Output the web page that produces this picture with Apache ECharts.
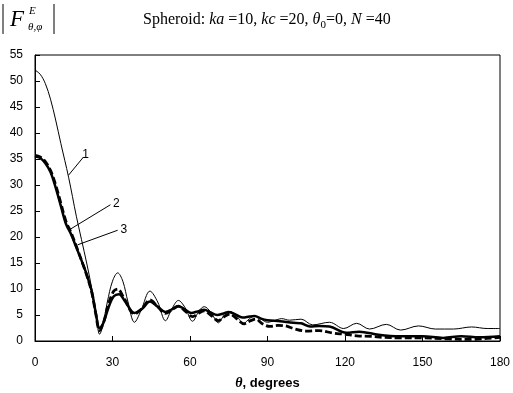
<!DOCTYPE html>
<html><head><meta charset="utf-8">
<script src="https://cdn.jsdelivr.net/npm/echarts@6/dist/echarts.min.js"></script>
<style>html,body{margin:0;padding:0;background:#fff}#c{width:513px;height:393px}</style>
</head><body><div id="c"></div>
<script>
// Curve 1 (thin solid)
var theta1 = [0,2,4,6,8,10,13,16,18,20,22,24,25,26,28,30,32,34,36,38.5,41,44.5,47.5,50.5,53,55.5,58,61,63.5,65.5,68,71,73,75.5,78,80.8,83,85,87.5,90,92.5,95.5,98.5,103,107.5,114,119.5,124.5,129.5,136,141.5,148.5,155,162,169,175,180];
var val1   = [52.1,51.3,49.5,46.5,42.5,38,31.5,24,19.5,15,10,3.5,1.3,2.5,7.5,11.5,13.1,11.5,7.5,3.6,5.8,9.6,7.5,3.9,6.2,7.8,6.5,3.8,5.8,6.6,5.6,3.5,4.8,5.7,4.8,3.4,4.3,4.8,4.2,3.6,3.9,4.3,4.0,4.2,3.1,3.6,2.4,3.4,2.3,3.2,2.1,2.9,2.3,2.3,2.7,2.4,2.4];
// Curve 2 (thick solid)
var theta2 = [0,2,4,6,8,10,12,14,16,18,20,22,23.5,25,26.5,28.5,30.5,32.5,35,38.5,41.5,44.5,47.5,50.5,53,55.5,58,60.5,63,65.5,68,70.5,73,75,78,80.5,83,85,87.5,90,94.8,100,103,106.5,110,114,120.5,125.5,133,141,150,158,165,172,180];
var val2   = [35.5,35.2,34.2,32.5,29.5,26,22.5,20.5,18,15.5,12.8,9.5,5.5,2.4,3.5,6.5,8.6,9.0,7.5,5.4,6.2,7.6,6.6,5.6,6.1,6.7,6.1,5.4,5.7,6.0,5.5,5.0,5.3,5.6,5.0,4.5,4.7,4.8,4.3,4.0,3.8,3.5,3.4,2.8,2.9,2.8,1.6,1.8,1.2,0.9,0.9,0.6,0.9,0.7,0.9];
// Curve 3 (thick dashed)
var theta3 = [0,2,4,6,8,10,12,14,16,18,20,22,23.5,25,26.5,28.5,30.5,32,34.5,38.5,41.5,44.5,47.5,50.5,53,55.5,58,61,63.5,65.5,68,71,73,75.5,78,81,83,85.5,88,91,94,97,100,105,110,115.5,120,124.5,130,135,142,150,160,170,175,180];
var val3   = [35.7,35.4,34.5,32.8,30,26.5,23,20.8,18.2,15.5,12.7,9.3,5.3,2.0,3.5,7.2,9.6,10.0,8.2,5.2,6.3,7.9,6.6,5.3,6.0,6.7,5.8,4.7,5.4,5.8,5.0,3.9,4.6,5.2,4.3,3.3,3.8,4.2,3.3,2.8,3.0,2.9,2.4,1.9,2.0,1.5,1.3,1.0,0.9,0.7,0.6,0.6,0.4,0.3,0.5,0.7];
var xTicks = [0,30,60,90,120,150,180];
var yTicks = [0,5,10,15,20,25,30,35,40,45,50,55];
// Curve labels with leader lines (data coordinates)
var curveLabels = ['1','2','3'];
var leaderStart = [[13.0,31.9],[13.0,21.3],[16.5,18.5]];
var leaderEnd   = [[18.8,35.4],[29.2,26.2],[32.0,21.3]];

function pairs(t,v){return t.map(function(x,i){return [x,v[i]];});}

var chart = echarts.init(document.getElementById('c'),null,{renderer:'canvas'});
var leaders = curveLabels.map(function(l,i){
  return [{coord:leaderStart[i]},{coord:leaderEnd[i],label:{show:true,formatter:l,position:'end',distance:3,color:'#000',fontFamily:'Liberation Sans, Arial',fontSize:12}}];
});
var option = {
  animation:false,
  grid:{left:35,right:13,top:55,bottom:52,show:true,borderColor:'#000',borderWidth:1,containLabel:false,outerBoundsMode:'none'},
  xAxis:{type:'value',min:0,max:180,interval:30,
    axisLine:{lineStyle:{color:'#000',width:1}},
    axisTick:{inside:true,length:5,lineStyle:{color:'#000'}},
    splitLine:{show:false},
    axisLabel:{color:'#000',fontFamily:'Liberation Sans, Arial',fontSize:12,margin:16},
    name:'{t|θ}{d|, degrees}',nameLocation:'middle',nameGap:35,
    nameTextStyle:{rich:{t:{fontFamily:'Liberation Serif',fontStyle:'italic',fontWeight:'bold',fontSize:14,color:'#000'},
      d:{fontFamily:'Liberation Sans, Arial',fontWeight:'bold',fontSize:13,color:'#000'}}}
  },
  yAxis:{type:'value',min:0,max:55,interval:5,
    axisLine:{show:true,lineStyle:{color:'#000',width:1}},
    axisTick:{show:true,inside:true,length:5,lineStyle:{color:'#000'}},
    splitLine:{show:false},
    axisLabel:{color:'#000',fontFamily:'Liberation Sans, Arial',fontSize:12,margin:12}
  },
  series:[
    {type:'line',data:pairs(theta1,val1),smooth:0.35,symbol:'none',lineStyle:{color:'#000',width:1},z:3,
     markLine:{silent:true,symbol:'none',lineStyle:{color:'#000',width:1,type:'solid'},data:leaders}},
    {type:'line',data:pairs(theta2,val2),smooth:0.35,symbol:'none',lineStyle:{color:'#000',width:2.5},z:2},
    {type:'line',data:pairs(theta3,val3),smooth:0.35,symbol:'none',lineStyle:{color:'#000',width:2.8,type:[7,3]},z:2}
  ],
  graphic:[
    {type:'line',shape:{x1:3,y1:4,x2:3,y2:34},style:{stroke:'#000',lineWidth:1}},
    {type:'line',shape:{x1:54,y1:4,x2:54,y2:34},style:{stroke:'#000',lineWidth:1}},
    {type:'text',left:10,top:8,style:{text:'F',font:'italic 23px "Liberation Serif"',fill:'#000'}},
    {type:'text',left:29,top:6,style:{text:'E',font:'italic 11px "Liberation Serif"',fill:'#000'}},
    {type:'text',left:28,top:22,style:{text:'θ,φ',font:'italic 11px "Liberation Serif"',fill:'#000'}},
    {type:'text',left:143,top:12,style:{
      text:'{n|Spheroid: }{i|ka}{n| =10, }{i|kc}{n| =20, }{i|θ}{s|0}{n|=0, }{i|N}{n| =40}',
      rich:{n:{fontFamily:'Liberation Serif',fontSize:16,color:'#000',lineHeight:20,verticalAlign:'bottom'},
            i:{fontFamily:'Liberation Serif',fontStyle:'italic',fontSize:16,color:'#000',lineHeight:20,verticalAlign:'bottom'},
            s:{fontFamily:'Liberation Serif',fontSize:11,color:'#000',lineHeight:20,verticalAlign:'bottom',padding:[0,0,-3,0]}}}}
  ]
};
chart.setOption(option);
</script></body></html>
